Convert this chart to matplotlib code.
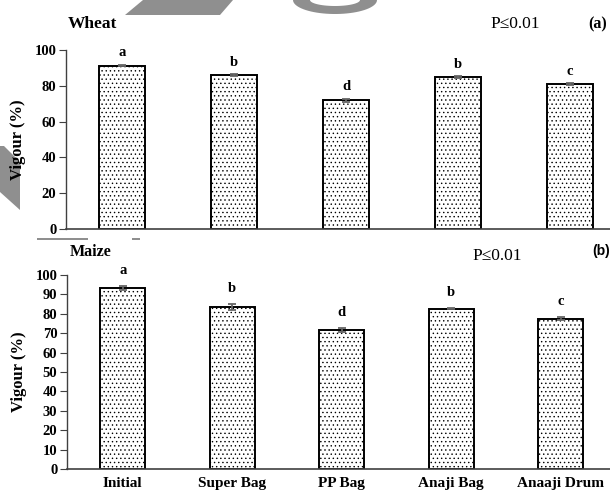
import matplotlib
matplotlib.use("Agg")
import matplotlib.pyplot as plt
from matplotlib.patches import Polygon
import numpy as np

plt.rcParams['hatch.linewidth'] = 0.5
plt.rcParams['hatch.color'] = '#555555'

categories = ["Initial", "Super Bag", "PP Bag", "Anaji Bag", "Anaaji Drum"]
wheat_vals = [91.3, 86.1, 71.8, 84.9, 81.0]
wheat_err = [0.5, 0.5, 1.0, 0.5, 0.4]
wheat_letters = ["a", "b", "d", "b", "c"]
maize_vals = [93.1, 83.6, 71.7, 82.6, 77.5]
maize_err = [1.0, 1.5, 1.0, 0.3, 0.6]
maize_letters = ["a", "b", "d", "b", "c"]

serif = "Liberation Serif"
W, H = 610, 496
fig = plt.figure(figsize=(W / 100, H / 100), dpi=100)

def fx(px):
    return px / W

def fy(py):
    return 1 - py / H

# faint grey watermark pieces seen in the background of the reference
wm = '#8f8f8f'
def wm_poly(pts):
    fig.patches.append(Polygon([(fx(a), fy(b)) for a, b in pts], closed=True,
                               transform=fig.transFigure, facecolor=wm,
                               edgecolor='none', zorder=-5))
wm_poly([(125, 15), (143, 0), (233, 0), (220, 15)])
t = np.linspace(0, np.pi, 40)
outer = [(335 + 42 * np.cos(a), 14 * np.sin(a)) for a in t]
inner = [(335 + 25 * np.cos(a), 6 * np.sin(a)) for a in t[::-1]]
wm_poly(outer + inner)
wm_poly([(0, 146), (4, 146), (20, 162), (20, 210), (0, 192)])
wm_poly([(37, 238), (88, 238), (88, 240), (37, 240)])
wm_poly([(132, 238), (140, 238), (140, 240), (132, 240)])

def panel(rect, vals, errs, letters, yticks, xlim, offset, show_x):
    ax = fig.add_axes(rect)
    ax.patch.set_alpha(0)
    x = np.arange(len(vals))
    ax.bar(x, vals, width=0.41, color='white', edgecolor='black', linewidth=1.4,
           hatch='....', zorder=2)
    ax.errorbar(x, vals, yerr=errs, fmt='none', ecolor='#666666', elinewidth=1.3,
                capsize=3, capthick=1.3, zorder=3)
    for xi, v, e, l in zip(x, vals, errs, letters):
        ax.text(xi, v + e + offset, l, ha='center', va='center', fontsize=10.5,
                fontweight='bold', family=serif)
    ax.set_ylim(0, 100)
    ax.set_xlim(*xlim)
    ax.set_yticks(yticks)
    ax.set_yticklabels([str(t) for t in yticks], fontsize=10.5, fontweight='bold', family=serif)
    for s in ['top', 'right']:
        ax.spines[s].set_visible(False)
    ax.spines['left'].set_color('#404040')
    ax.spines['bottom'].set_color('#404040')
    ax.spines['left'].set_linewidth(1.0)
    ax.spines['bottom'].set_linewidth(1.2)
    ax.tick_params(axis='y', length=5, width=0.8, color='#404040', pad=2)
    ax.tick_params(axis='x', length=0)
    ax.set_xticks(x)
    if show_x:
        ax.set_xticklabels(categories, fontsize=11, fontweight='bold', family=serif)
        ax.tick_params(axis='x', pad=6)
    else:
        ax.set_xticklabels([])
    ax.set_ylabel("Vigour (%)", fontsize=12, fontweight='bold', family=serif, labelpad=6)
    return ax

ax1 = panel([fx(66), fy(229), fx(W - 66), fy(50) - fy(229)],
            wheat_vals, wheat_err, wheat_letters, [0, 20, 40, 60, 80, 100],
            (-0.5, 4.357), 6.6, False)
ax2 = panel([fx(67), fy(469), fx(W - 67), fy(275) - fy(469)],
            maize_vals, maize_err, maize_letters, list(range(0, 101, 10)),
            (-0.51, 4.45), 8.0, True)

fig.text(fx(68), fy(24), "Wheat", fontsize=12.5, fontweight='bold', family=serif, va='center', ha='left')
fig.text(fx(490), fy(24), "P≤0.01", fontsize=12.5, family=serif, va='center', ha='left')
fig.text(fx(588), fy(24), "(a)", fontsize=11.5, fontweight='bold', family=serif, va='center', ha='left')
fig.text(fx(70), fy(252), "Maize", fontsize=11.5, fontweight='bold', family=serif, va='center', ha='left')
fig.text(fx(472), fy(256), "P≤0.01", fontsize=12.5, family=serif, va='center', ha='left')
fig.text(fx(592), fy(251), "(b)", fontsize=10, fontweight='bold', family='Liberation Sans', va='center', ha='left')

fig.savefig("out.png", dpi=100)
